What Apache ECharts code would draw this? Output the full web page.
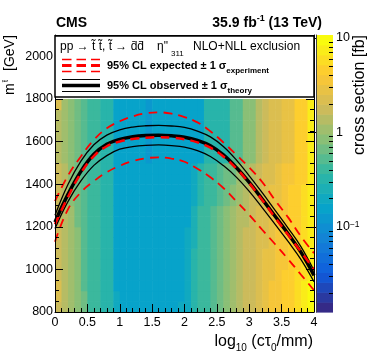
<!DOCTYPE html>
<html>
<head>
<meta charset="utf-8">
<script src="https://cdn.jsdelivr.net/npm/echarts@6/dist/echarts.min.js"></script>
<style>
  html, body { margin: 0; padding: 0; background: #fff; }
  #chart { width: 374px; height: 363px; }
</style>
</head>
<body>
<div id="chart"></div>
<script>
// bin edges: log10(c tau0 / mm) and stop mass [GeV]
var lifetimeEdges = [0, 0.1, 0.2, 0.3, 0.4, 0.5, 0.6, 0.7, 0.8, 0.9, 1.0, 1.1, 1.2, 1.3, 1.4, 1.5, 1.6, 1.7, 1.8, 1.9,
                     2.0, 2.1, 2.2, 2.3, 2.4, 2.5, 2.6, 2.7, 2.8, 2.9, 3.0, 3.1, 3.2, 3.3, 3.4, 3.5, 3.6, 3.7, 3.8, 3.9, 4.0];
var massEdges = [800, 850, 900, 950, 1000, 1050, 1100, 1150, 1200, 1250, 1300, 1350, 1400, 1450, 1500, 1550, 1600, 1650, 1700, 1750, 1800];

// cross section upper limit [fb], one row per mass bin (40 lifetime bins)
var xsec800  = [1.8, 1.4, 1.1, 0.8, 0.6, 0.46, 0.46, 0.36, 0.36, 0.2, 0.17, 0.17, 0.17, 0.17, 0.17, 0.17, 0.17, 0.17, 0.17, 0.18,
                0.22, 0.33, 0.42, 0.46, 0.55, 0.70, 0.90, 1.15, 1.45, 1.7, 1.9, 2.3, 2.8, 3.3, 3.8, 4.3, 4.8, 5.8, 7.0, 8.5];
var xsec850  = [2.2, 1.4, 1.1, 0.8, 0.6, 0.46, 0.46, 0.36, 0.36, 0.18, 0.17, 0.17, 0.17, 0.17, 0.17, 0.17, 0.17, 0.17, 0.17, 0.17,
                0.22, 0.33, 0.42, 0.46, 0.55, 0.70, 0.90, 1.15, 1.45, 1.7, 1.9, 2.3, 2.8, 3.3, 3.8, 4.3, 4.8, 5.8, 7.0, 8.5];
var xsec900  = [2.2, 1.35, 1.05, 0.78, 0.58, 0.45, 0.45, 0.35, 0.35, 0.17, 0.17, 0.17, 0.17, 0.17, 0.17, 0.17, 0.17, 0.17, 0.17, 0.17,
                0.21, 0.32, 0.42, 0.45, 0.54, 0.68, 0.88, 1.15, 1.45, 1.7, 1.9, 2.2, 2.7, 3.3, 3.7, 4.2, 4.7, 5.6, 6.8, 8.5];
var xsec950  = [1.6, 1.3, 1.05, 0.77, 0.58, 0.45, 0.45, 0.35, 0.35, 0.17, 0.17, 0.17, 0.17, 0.17, 0.17, 0.17, 0.17, 0.17, 0.17, 0.17,
                0.20, 0.31, 0.41, 0.44, 0.53, 0.66, 0.86, 1.1, 1.4, 1.65, 1.85, 2.2, 2.7, 3.2, 3.6, 4.1, 4.6, 5.4, 6.5, 8.4];
var xsec1000 = [1.6, 1.3, 1.05, 0.77, 0.58, 0.45, 0.45, 0.35, 0.35, 0.17, 0.17, 0.17, 0.17, 0.17, 0.17, 0.17, 0.17, 0.17, 0.17, 0.17,
                0.18, 0.29, 0.40, 0.42, 0.51, 0.64, 0.84, 1.1, 1.4, 1.6, 1.8, 2.1, 2.6, 3.1, 3.5, 4.0, 4.4, 5.2, 6.2, 8.2];
var xsec1050 = [1.6, 1.3, 1.05, 0.77, 0.58, 0.45, 0.45, 0.35, 0.35, 0.17, 0.17, 0.17, 0.17, 0.17, 0.17, 0.17, 0.17, 0.17, 0.17, 0.17,
                0.18, 0.29, 0.40, 0.42, 0.51, 0.64, 0.84, 1.1, 1.4, 1.6, 1.8, 2.1, 2.6, 3.1, 3.5, 4.0, 4.4, 5.2, 6.2, 8.2];
var xsec1100 = [1.6, 1.3, 1.05, 0.77, 0.58, 0.45, 0.45, 0.35, 0.35, 0.17, 0.17, 0.17, 0.17, 0.17, 0.17, 0.17, 0.17, 0.17, 0.17, 0.17,
                0.18, 0.28, 0.39, 0.42, 0.50, 0.62, 0.82, 1.05, 1.35, 1.6, 1.8, 2.1, 2.5, 3.0, 3.5, 4.0, 4.4, 5.0, 6.0, 8.2];
var xsec1150 = [1.6, 1.3, 1.05, 0.77, 0.58, 0.45, 0.45, 0.35, 0.35, 0.17, 0.17, 0.17, 0.17, 0.17, 0.17, 0.17, 0.17, 0.17, 0.17, 0.17,
                0.18, 0.28, 0.39, 0.42, 0.50, 0.62, 0.82, 1.05, 1.35, 1.6, 1.8, 2.1, 2.5, 3.0, 3.5, 4.0, 4.4, 5.0, 6.0, 8.2];
var xsec1200 = [1.6, 1.3, 1.0, 0.75, 0.56, 0.44, 0.44, 0.35, 0.35, 0.17, 0.17, 0.17, 0.17, 0.17, 0.17, 0.17, 0.17, 0.17, 0.17, 0.17,
                0.17, 0.26, 0.37, 0.41, 0.48, 0.60, 0.78, 1.0, 1.3, 1.55, 1.75, 2.0, 2.45, 2.9, 3.4, 3.9, 4.4, 4.9, 5.8, 8.0];
var xsec1250 = [1.6, 1.3, 1.0, 0.75, 0.56, 0.44, 0.44, 0.35, 0.35, 0.17, 0.17, 0.17, 0.17, 0.17, 0.17, 0.17, 0.17, 0.17, 0.17, 0.17,
                0.17, 0.26, 0.37, 0.41, 0.48, 0.60, 0.78, 1.0, 1.3, 1.55, 1.75, 2.0, 2.45, 2.9, 3.4, 3.9, 4.4, 4.9, 5.8, 8.0];
var xsec1300 = [1.6, 1.25, 0.95, 0.7, 0.52, 0.43, 0.43, 0.35, 0.35, 0.165, 0.165, 0.165, 0.165, 0.165, 0.165, 0.165, 0.165, 0.165, 0.165, 0.165,
                0.17, 0.20, 0.33, 0.38, 0.42, 0.52, 0.66, 0.85, 1.1, 1.35, 1.6, 1.85, 2.2, 2.7, 3.1, 3.6, 4.2, 4.6, 5.5, 7.8];
var xsec1350 = [1.6, 1.25, 0.95, 0.7, 0.52, 0.43, 0.43, 0.35, 0.35, 0.165, 0.165, 0.165, 0.165, 0.165, 0.165, 0.165, 0.165, 0.165, 0.165, 0.165,
                0.17, 0.20, 0.33, 0.38, 0.42, 0.52, 0.66, 0.85, 1.1, 1.35, 1.6, 1.85, 2.2, 2.7, 3.1, 3.6, 4.2, 4.6, 5.5, 7.8];
var xsec1400 = [1.6, 1.25, 0.95, 0.7, 0.52, 0.43, 0.43, 0.35, 0.35, 0.165, 0.165, 0.165, 0.165, 0.165, 0.165, 0.165, 0.165, 0.165, 0.165, 0.165,
                0.17, 0.19, 0.30, 0.37, 0.40, 0.48, 0.60, 0.75, 1.0, 1.2, 1.45, 1.7, 2.0, 2.5, 2.9, 3.4, 4.0, 4.5, 5.0, 7.7];
var xsec1450 = [1.6, 1.25, 0.95, 0.7, 0.52, 0.43, 0.43, 0.35, 0.35, 0.165, 0.165, 0.165, 0.165, 0.165, 0.165, 0.165, 0.165, 0.165, 0.165, 0.165,
                0.17, 0.19, 0.30, 0.37, 0.40, 0.48, 0.60, 0.75, 1.0, 1.2, 1.45, 1.7, 2.0, 2.5, 2.9, 3.4, 4.0, 4.5, 5.0, 7.7];
var xsec1500 = [1.5, 1.15, 0.88, 0.66, 0.51, 0.42, 0.42, 0.35, 0.35, 0.16, 0.16, 0.16, 0.16, 0.16, 0.14, 0.16, 0.16, 0.16, 0.16, 0.16,
                0.17, 0.17, 0.17, 0.35, 0.35, 0.35, 0.36, 0.55, 0.58, 0.95, 0.95, 1.5, 1.6, 2.1, 2.2, 3.1, 3.2, 4.4, 4.5, 7.5];
var xsec1550 = [1.5, 1.15, 0.88, 0.66, 0.51, 0.42, 0.42, 0.35, 0.35, 0.16, 0.16, 0.16, 0.16, 0.16, 0.14, 0.16, 0.16, 0.16, 0.16, 0.16,
                0.17, 0.17, 0.17, 0.35, 0.35, 0.35, 0.36, 0.55, 0.58, 0.95, 0.95, 1.5, 1.6, 2.1, 2.2, 3.1, 3.2, 4.4, 4.5, 7.5];
var xsec1600 = [1.5, 1.15, 0.88, 0.66, 0.51, 0.42, 0.42, 0.35, 0.35, 0.16, 0.16, 0.16, 0.16, 0.16, 0.14, 0.16, 0.16, 0.16, 0.16, 0.16,
                0.17, 0.17, 0.17, 0.35, 0.35, 0.35, 0.36, 0.55, 0.58, 0.95, 0.95, 1.5, 1.6, 2.1, 2.2, 3.1, 3.2, 4.4, 4.5, 7.5];
var xsec1650 = [1.5, 1.15, 0.88, 0.66, 0.51, 0.42, 0.42, 0.35, 0.35, 0.16, 0.16, 0.16, 0.16, 0.16, 0.14, 0.16, 0.16, 0.16, 0.16, 0.16,
                0.17, 0.17, 0.17, 0.35, 0.35, 0.35, 0.36, 0.55, 0.58, 0.95, 0.95, 1.5, 1.6, 2.1, 2.2, 3.1, 3.2, 4.4, 4.5, 7.5];
var xsec1700 = [1.5, 1.15, 0.88, 0.66, 0.51, 0.42, 0.42, 0.35, 0.35, 0.16, 0.16, 0.16, 0.16, 0.16, 0.14, 0.16, 0.16, 0.16, 0.16, 0.16,
                0.17, 0.17, 0.17, 0.35, 0.35, 0.35, 0.36, 0.55, 0.58, 0.95, 0.95, 1.5, 1.6, 2.1, 2.2, 3.1, 3.2, 4.4, 4.5, 7.5];
var xsec1750 = [2.0, 1.2, 0.9, 0.66, 0.51, 0.42, 0.42, 0.35, 0.35, 0.16, 0.16, 0.16, 0.16, 0.16, 0.14, 0.16, 0.16, 0.16, 0.16, 0.16,
                0.17, 0.17, 0.17, 0.35, 0.35, 0.35, 0.36, 0.55, 0.58, 0.95, 0.95, 1.5, 1.6, 2.1, 2.2, 3.1, 3.2, 4.4, 4.5, 7.5];
var xsecRows = [xsec800, xsec850, xsec900, xsec950, xsec1000, xsec1050, xsec1100, xsec1150, xsec1200, xsec1250,
                xsec1300, xsec1350, xsec1400, xsec1450, xsec1500, xsec1550, xsec1600, xsec1650, xsec1700, xsec1750];

// exclusion contours: mass limit [GeV] vs log10(c tau0 / mm)
var contourX = [0, 0.2, 0.4, 0.6, 0.8, 1.0, 1.2, 1.4, 1.6, 1.8, 2.0, 2.2, 2.4, 2.6, 2.8, 3.0, 3.2, 3.4, 3.6, 3.8, 4.0];
var obsLimit  = [1222, 1352, 1460, 1540, 1587, 1610, 1622, 1628, 1630, 1627, 1620, 1605, 1580, 1537, 1478, 1408, 1330, 1249, 1167, 1080, 972];
var obsUp     = [1254, 1398, 1508, 1585, 1630, 1655, 1668, 1674, 1676, 1673, 1666, 1649, 1622, 1577, 1514, 1439, 1360, 1277, 1194, 1106, 995];
var obsDown   = [1192, 1318, 1415, 1488, 1534, 1564, 1576, 1582, 1584, 1581, 1574, 1557, 1530, 1487, 1433, 1366, 1290, 1211, 1131, 1046, 942];
var expLimit  = [1212, 1340, 1452, 1532, 1578, 1600, 1612, 1618, 1620, 1618, 1611, 1596, 1571, 1530, 1474, 1405, 1326, 1243, 1162, 1082, 1000];
var expUp     = [1320, 1440, 1530, 1608, 1662, 1695, 1718, 1732, 1737, 1731, 1715, 1690, 1648, 1596, 1538, 1478, 1410, 1324, 1244, 1154, 1076];
var expDown   = [1130, 1282, 1362, 1414, 1456, 1486, 1508, 1521, 1526, 1520, 1505, 1472, 1432, 1382, 1320, 1256, 1186, 1118, 1048, 975, 902];

var FONT = '"Liberation Sans", Arial, sans-serif';

// ROOT kBird palette, log z axis cut into bands
var bird = [[53, 42, 135], [15, 92, 221], [20, 129, 214], [6, 164, 202], [46, 183, 164],
            [135, 191, 119], [209, 187, 89], [254, 200, 50], [249, 251, 14]];
var zLog = [-1.9, 1.03];
var nBands = 28;

function bandOf(v) {
    var t = (Math.log10(v) - zLog[0]) / (zLog[1] - zLog[0]);
    return Math.max(0, Math.min(nBands - 1, Math.floor(t * nBands)));
}
function bandColor(k) {
    var f = k / (nBands - 1) * (bird.length - 1);
    var i = Math.min(bird.length - 2, Math.floor(f));
    var u = f - i, a = bird[i], b = bird[i + 1];
    return 'rgb(' + Math.round(a[0] + (b[0] - a[0]) * u) + ',' + Math.round(a[1] + (b[1] - a[1]) * u) + ',' +
        Math.round(a[2] + (b[2] - a[2]) * u) + ')';
}

var cells = [];
xsecRows.forEach(function (row, j) {
    row.forEach(function (v, i) {
        cells.push([lifetimeEdges[i], lifetimeEdges[i + 1], massEdges[j], massEdges[j + 1], v]);
    });
});

var bands = [];
for (var k = 0; k < nBands; k++) bands.push([k]);

function pairs(ys) {
    return contourX.map(function (x, i) { return [x, ys[i]]; });
}

// text helpers for the ROOT-style labels
var measureCtx = document.createElement('canvas').getContext('2d');
function fontOf(size, bold) { return (bold ? 'bold ' : '') + size + 'px ' + FONT; }
function textWidth(str, size, bold) { measureCtx.font = fontOf(size, bold); return measureCtx.measureText(str).width; }
function textEl(str, x, y, size, bold, align) {
    return {
        type: 'text', x: x, y: y, z: 101,
        style: { text: str, font: fontOf(size, bold), fill: '#000', align: align || 'left', verticalAlign: 'middle',
                 textAlign: align || 'left', textVerticalAlign: 'middle' }
    };
}
// parts: [text, size, bold, dy]
function textRun(parts, x, y, alignRight) {
    var total = 0;
    parts.forEach(function (p) { total += textWidth(p[0], p[1], p[2]); });
    var cx = alignRight ? x - total : x;
    return parts.map(function (p) {
        var el = textEl(p[0], cx, y + (p[3] || 0), p[1], p[2]);
        cx += textWidth(p[0], p[1], p[2]);
        return el;
    });
}
function legendLine(y, x0, x1, color, width, dash) {
    return {
        type: 'line', z: 101, shape: { x1: x0, y1: y, x2: x1, y2: y },
        style: { stroke: color, lineWidth: width, lineDash: dash || null }
    };
}

var graphics = [];
graphics.push({ type: 'rect', z: 100, shape: { x: 55, y: 36, width: 259, height: 61 },
                style: { fill: '#fff', stroke: '#000', lineWidth: 1.5 } });
graphics.push(textEl('pp \u2192 t\u0303 t\u0303, t\u0303 \u2192 d\u0304d\u0304', 60, 47, 12, false));
graphics.push(textEl('\u03b7"', 157, 47, 12, false));
graphics.push(textEl('311', 171, 54, 8, false));
graphics.push(textEl('NLO+NLL exclusion', 193, 47, 12, false));
graphics.push(legendLine(59.5, 62, 100, '#ff0000', 1.5, [9.5, 5]));
graphics.push(legendLine(65.5, 62, 100, '#ff0000', 3, [9.5, 5]));
graphics.push(legendLine(71.5, 62, 100, '#ff0000', 1.5, [9.5, 5]));
graphics.push(legendLine(79.5, 62, 100, '#000', 1.2));
graphics.push(legendLine(85.5, 62, 100, '#000', 3.5));
graphics.push(legendLine(91.5, 62, 100, '#000', 1.2));
graphics = graphics.concat(textRun([['95% CL expected ', 11, true], ['\u00b1 1 \u03c3', 11, true], ['experiment', 8, true, 5]], 107, 66));
graphics = graphics.concat(textRun([['95% CL observed ', 11, true], ['\u00b1 1 \u03c3', 11, true], ['theory', 8, true, 5]], 107, 86));

// header
graphics.push(textEl('CMS', 56, 23, 14, true));
graphics = graphics.concat(textRun([['35.9 fb', 14, true], ['-1', 9, true, -4], [' (13 TeV)', 14, true]], 322, 23, true));

// x axis title
graphics = graphics.concat(textRun([['log', 16], ['10', 10, false, 6], [' (c\u03c4', 16], ['0', 10, false, 6], ['/mm)', 16]], 313, 342, true));

// y axis title (reads upwards)
graphics.push({ type: 'group', x: 10, y: 95, rotation: Math.PI / 2, children: [
    textEl('m', 0, 0, 14, false),
    textEl('t\u0303', 13, -4, 7, false),
    textEl('[GeV]', 24, 0, 14, false)
] });
// colour axis title
graphics.push({ type: 'group', x: 360, y: 35, rotation: Math.PI / 2, children: [
    textEl('cross section [fb]', 0, 0, 16, false, 'right')
] });

var frameAxis = {
    axisLine: { show: true, onZero: false, lineStyle: { color: '#000', width: 1 } },
    axisTick: { show: true, inside: true, length: 8, lineStyle: { color: '#000' } },
    splitLine: { show: false },
    z: 10
};

var chart = echarts.init(document.getElementById('chart'), null, { renderer: 'canvas' });
chart.setOption({
    animation: false,
    backgroundColor: '#fff',
    grid: [
        { left: 55, top: 35, width: 259, height: 277 },
        { left: 316, top: 35, width: 17, height: 277 }
    ],
    xAxis: [
        Object.assign({}, frameAxis, {
            gridIndex: 0, type: 'value', min: 0, max: 4, interval: 0.5, position: 'bottom',
            minorTick: { show: true, splitNumber: 5, length: 4, lineStyle: { color: '#000' } },
            axisLabel: { fontSize: 12.5, color: '#000', fontFamily: FONT, margin: 4 }
        }),
        Object.assign({}, frameAxis, {
            gridIndex: 0, type: 'value', min: 0, max: 4, interval: 0.5, position: 'top',
            minorTick: { show: true, splitNumber: 5, length: 4, lineStyle: { color: '#000' } },
            axisLabel: { show: false }
        }),
        { gridIndex: 1, type: 'value', min: 0, max: 1, show: false }
    ],
    yAxis: [
        Object.assign({}, frameAxis, {
            gridIndex: 0, type: 'value', min: 800, max: 2100, interval: 200, position: 'left',
            minorTick: { show: true, splitNumber: 4, length: 4, lineStyle: { color: '#000' } },
            axisLabel: { fontSize: 12.5, color: '#000', fontFamily: FONT, margin: 2,
                         formatter: function (v) { return v % 200 === 0 ? String(v) : ''; } }
        }),
        Object.assign({}, frameAxis, {
            gridIndex: 0, type: 'value', min: 800, max: 2100, interval: 200, position: 'right',
            minorTick: { show: true, splitNumber: 4, length: 4, lineStyle: { color: '#000' } },
            axisLabel: { show: false }
        }),
        {
            gridIndex: 1, type: 'value', min: zLog[0], max: zLog[1], position: 'right', z: 10,
            axisLine: { show: true, lineStyle: { color: '#444' } },
            splitLine: { show: false },
            axisTick: { show: true, inside: true, length: 8, lineStyle: { color: '#000' }, customValues: [-1, 0, 1] },
            axisLabel: {
                show: true, customValues: [-1, 0, 1], margin: 3, fontSize: 12.5, color: '#000', fontFamily: FONT,
                formatter: function (v) { return v === -1 ? '10{sup|\u22121}' : (v === 0 ? '1' : '10'); },
                rich: { sup: { fontSize: 8.5, fontFamily: FONT, color: '#000', verticalAlign: 'top' } }
            }
        },
        {
            gridIndex: 1, type: 'value', min: zLog[0], max: zLog[1], position: 'right', z: 10,
            axisLine: { show: false }, splitLine: { show: false }, axisLabel: { show: false },
            axisTick: { show: true, inside: true, length: 4, lineStyle: { color: '#000' },
                        customValues: [Math.log10(0.02), Math.log10(0.03), Math.log10(0.04), Math.log10(0.05), Math.log10(0.06),
                                       Math.log10(0.07), Math.log10(0.08), Math.log10(0.09),
                                       Math.log10(0.2), Math.log10(0.3), Math.log10(0.4), Math.log10(0.5), Math.log10(0.6),
                                       Math.log10(0.7), Math.log10(0.8), Math.log10(0.9),
                                       Math.log10(2), Math.log10(3), Math.log10(4), Math.log10(5), Math.log10(6),
                                       Math.log10(7), Math.log10(8), Math.log10(9)] }
        }
    ],
    graphic: { elements: graphics },
    series: [
        {
            type: 'custom', name: 'limit map', xAxisIndex: 0, yAxisIndex: 0, silent: true, z: 1, clip: true,
            data: cells, encode: { x: [0, 1], y: [2, 3] },
            renderItem: function (params, api) {
                var p0 = api.coord([api.value(0), api.value(2)]);
                var p1 = api.coord([api.value(1), api.value(3)]);
                return {
                    type: 'rect',
                    shape: { x: p0[0], y: p1[1], width: p1[0] - p0[0] + 0.6, height: p0[1] - p1[1] + 0.6 },
                    style: { fill: bandColor(bandOf(api.value(4))) }
                };
            }
        },
        {
            type: 'custom', name: 'palette', xAxisIndex: 2, yAxisIndex: 2, silent: true, z: 1,
            data: bands,
            renderItem: function (params, api) {
                var k = api.value(0);
                var step = (zLog[1] - zLog[0]) / nBands;
                var p0 = api.coord([0, zLog[0] + k * step]);
                var p1 = api.coord([1, zLog[0] + (k + 1) * step]);
                return {
                    type: 'rect',
                    shape: { x: p0[0], y: p1[1], width: p1[0] - p0[0], height: p0[1] - p1[1] + 0.6 },
                    style: { fill: bandColor(k) }
                };
            }
        },
        { type: 'line', name: 'obs up', data: pairs(obsUp), smooth: 0.4, symbol: 'none', z: 3,
          lineStyle: { color: '#000', width: 1.3 } },
        { type: 'line', name: 'obs down', data: pairs(obsDown), smooth: 0.4, symbol: 'none', z: 3,
          lineStyle: { color: '#000', width: 1.3 } },
        { type: 'line', name: 'observed', data: pairs(obsLimit), smooth: 0.4, symbol: 'none', z: 3,
          lineStyle: { color: '#000', width: 3.5 } },
        { type: 'line', name: 'exp up', data: pairs(expUp), smooth: 0.4, symbol: 'none', z: 4,
          lineStyle: { color: '#ff0000', width: 1.8, type: [9, 6] } },
        { type: 'line', name: 'exp down', data: pairs(expDown), smooth: 0.4, symbol: 'none', z: 4,
          lineStyle: { color: '#ff0000', width: 1.8, type: [9, 6] } },
        { type: 'line', name: 'expected', data: pairs(expLimit), smooth: 0.4, symbol: 'none', z: 4,
          lineStyle: { color: '#ff0000', width: 2.5, type: [9, 6] } }
    ]
});
</script>
</body>
</html>
